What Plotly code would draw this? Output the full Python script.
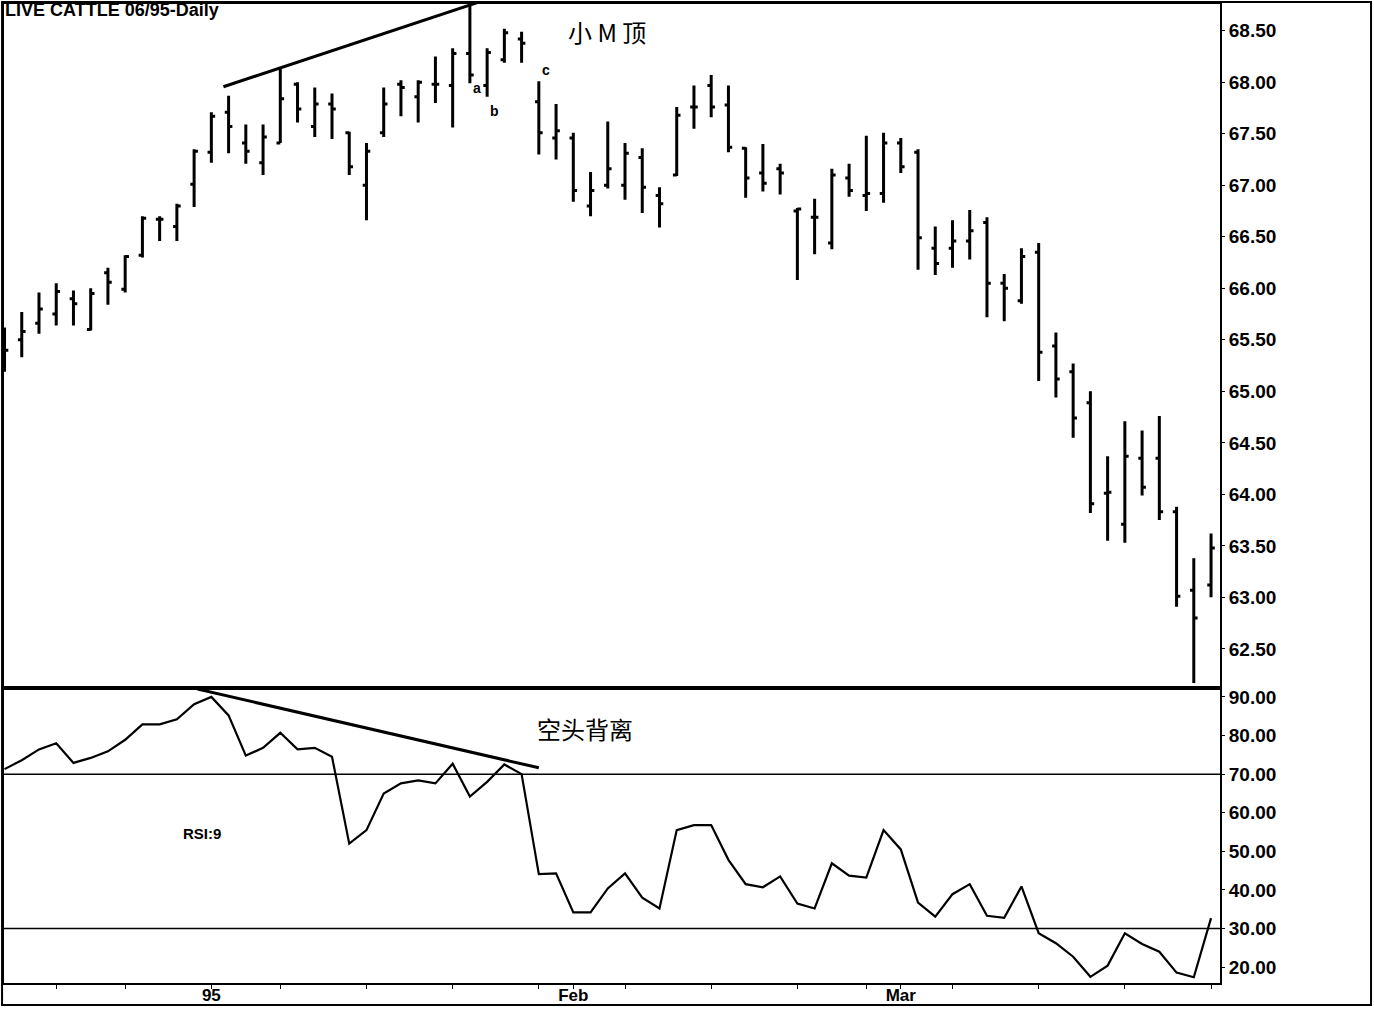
import plotly.graph_objects as go
from plotly.subplots import make_subplots

# Daily bars, 14 Dec 1994 .. 27 Mar 1995 (index 0..70)
OPEN = [65.45, 65.50, 65.66, 65.75, 65.90, 65.60, 66.15, 65.99, 66.32, 66.67,
        66.60, 67.01, 67.32, 67.71, 67.41, 67.22, 67.41, 67.98, 67.57, 67.79,
        67.51, 67.00, 67.51, 67.98, 67.86, 67.98, 67.97, 68.28, 67.97, 68.22,
        68.42, 67.81, 67.46, 67.46, 66.80, 67.00, 67.00, 67.27, 66.90, 67.10,
        67.76, 67.97, 67.78, 67.36, 67.12, 67.16, 66.75, 66.69, 66.44, 67.07,
        66.90, 66.92, 67.41, 67.32, 66.39, 66.39, 66.46, 66.64, 66.05, 65.88,
        66.35, 65.44, 65.19, 64.89, 64.01, 63.71, 64.35, 64.35, 63.83, 63.07,
        63.12]
HIGH = [65.62, 65.77, 65.96, 66.05, 65.98, 66.00, 66.20, 66.32, 66.70, 66.70,
        66.82, 67.35, 67.71, 67.87, 67.59, 67.59, 68.14, 68.00, 67.95, 67.89,
        67.52, 67.41, 67.95, 68.02, 68.02, 68.25, 68.33, 68.75, 68.33, 68.52,
        68.49, 68.01, 67.79, 67.51, 67.13, 67.62, 67.41, 67.36, 66.98, 67.76,
        67.97, 68.07, 67.97, 67.37, 67.40, 67.21, 66.78, 66.87, 67.16, 67.21,
        67.48, 67.51, 67.46, 67.35, 66.60, 66.66, 66.76, 66.69, 66.14, 66.39,
        66.44, 65.57, 65.27, 65.00, 64.37, 64.71, 64.62, 64.76, 63.88, 63.38,
        63.62]
LOW = [65.19, 65.33, 65.56, 65.64, 65.64, 65.59, 65.84, 65.96, 66.30, 66.46,
       66.46, 66.79, 67.22, 67.31, 67.21, 67.10, 67.41, 67.61, 67.47, 67.45,
       67.10, 66.66, 67.47, 67.67, 67.61, 67.80, 67.56, 67.99, 67.86, 68.19,
       68.19, 67.30, 67.25, 66.84, 66.70, 66.97, 66.86, 66.73, 66.59, 67.09,
       67.55, 67.66, 67.32, 66.88, 66.94, 66.91, 66.08, 66.33, 66.38, 66.89,
       66.75, 66.83, 67.12, 66.18, 66.13, 66.20, 66.28, 65.72, 65.68, 65.85,
       65.10, 64.94, 64.55, 63.82, 63.55, 63.53, 63.99, 63.75, 62.91, 62.17,
       63.00]
CLOSE = [65.40, 65.58, 65.80, 65.97, 65.85, 65.95, 66.06, 66.31, 66.68, 66.67,
         66.80, 67.33, 67.67, 67.57, 67.33, 67.47, 67.84, 67.74, 67.79, 67.74,
         67.18, 67.33, 67.79, 67.95, 68.00, 67.98, 68.28, 68.07, 68.29, 68.48,
         68.38, 67.51, 67.53, 66.95, 66.95, 67.16, 67.31, 66.98, 66.82, 67.68,
         67.76, 67.76, 67.37, 67.07, 67.02, 67.12, 66.77, 66.69, 67.10, 66.95,
         66.92, 67.41, 67.18, 66.49, 66.24, 66.46, 66.56, 66.05, 66.00, 66.31,
         65.38, 65.12, 64.74, 63.91, 64.02, 64.37, 64.07, 63.83, 63.01, 62.80,
         63.48]
RSI = [71.3, 73.6, 76.4, 78.0, 72.9, 74.2, 75.9, 78.9, 82.9, 82.9,
       84.2, 88.1, 90.0, 85.2, 74.8, 76.8, 80.7, 76.4, 76.8, 74.5,
       52.0, 55.5, 65.0, 67.6, 68.4, 67.6, 72.7, 64.2, 68.0, 72.5,
       70.0, 44.1, 44.3, 34.2, 34.2, 40.4, 44.3, 38.0, 35.2, 55.5,
       56.8, 56.8, 47.8, 41.5, 40.7, 43.5, 36.5, 35.2, 46.9, 43.7,
       43.2, 55.5, 50.5, 36.7, 33.1, 38.9, 41.5, 33.3, 32.8, 40.9,
       28.8, 26.2, 22.7, 17.5, 20.4, 28.8, 26.0, 24.0, 18.6, 17.4,
       32.7]

# weekly ticks and month labels on the bar index axis
TICK_POS = [3, 7, 12, 16, 21, 26, 31, 33, 36, 41, 46, 50, 52, 55, 60, 65, 70]
TICK_TXT = ['', '', '95', '', '', '', '', 'Feb', '', '', '', '', 'Mar', '', '', '', '']
PRICE_TICKS = [62.5, 63.0, 63.5, 64.0, 64.5, 65.0, 65.5, 66.0, 66.5, 67.0, 67.5, 68.0, 68.5]
RSI_TICKS = [20, 30, 40, 50, 60, 70, 80, 90]

x = list(range(len(CLOSE)))
bold = dict(family='Liberation Sans', size=19, color='black', weight='bold')

fig = make_subplots(rows=2, cols=1, shared_xaxes=True, vertical_spacing=0,
                    row_heights=[0.6987, 0.3013])

fig.add_trace(go.Ohlc(x=x, open=OPEN, high=HIGH, low=LOW, close=CLOSE,
                      increasing_line_color='black', decreasing_line_color='black',
                      line_width=3, tickwidth=0.22, showlegend=False), row=1, col=1)
fig.add_trace(go.Scatter(x=x, y=RSI, mode='lines', line=dict(color='black', width=2.2),
                         showlegend=False), row=2, col=1)

# overbought / oversold lines
fig.add_hline(y=70, line_color='black', line_width=1.5, row=2, col=1)
fig.add_hline(y=30, line_color='black', line_width=1.5, row=2, col=1)

# rising trend line over the highs (bars 16 and 27)
k = (HIGH[27] - HIGH[16]) / 11
fig.add_shape(type='line', xref='x', yref='y', x0=12.7, x1=27.6,
              y0=HIGH[16] + (12.7 - 16) * k, y1=HIGH[16] + (27.6 - 16) * k,
              line=dict(color='black', width=3))
# falling RSI line over the peaks (bars 12 and 29)
m = (RSI[29] - RSI[12]) / 17
fig.add_shape(type='line', xref='x2', yref='y2', x0=11.2, x1=31.0,
              y0=RSI[12] + 1.2 + (11.2 - 12) * m, y1=RSI[12] + 1.2 + (31.0 - 12) * m,
              line=dict(color='black', width=3))

# outer frame
fig.add_shape(type='rect', xref='paper', yref='paper', x0=-0.0016, x1=1.1242,
              y0=-0.0225, y1=1.002, line=dict(color='black', width=2))

small = dict(family='Liberation Sans', size=14, color='black', weight='bold')
cjk = dict(family='Noto Sans CJK SC', size=24, color='black')
fig.add_annotation(x=27.41, y=67.94, xref='x', yref='y', text='a', showarrow=False, font=small)
fig.add_annotation(x=28.40, y=67.72, xref='x', yref='y', text='b', showarrow=False, font=small)
fig.add_annotation(x=31.42, y=68.12, xref='x', yref='y', text='c', showarrow=False, font=small)
fig.add_annotation(x=34.96, y=68.49, xref='x', yref='y', text='小 M 顶', showarrow=False, font=cjk)
fig.add_annotation(x=33.68, y=81.7, xref='x2', yref='y2', text='空头背离', showarrow=False, font=cjk)
fig.add_annotation(x=11.46, y=54.5, xref='x2', yref='y2', text='RSI:9', showarrow=False,
                   font=dict(family='Liberation Sans', size=15, color='black', weight='bold'))
fig.add_annotation(x=-0.001, y=0.9939, xref='paper', yref='paper', xanchor='left', yanchor='middle',
                   text='LIVE CATTLE 06/95-Daily', showarrow=False,
                   font=dict(family='Liberation Sans', size=18, color='black', weight='bold'))

fig.update_xaxes(range=[-0.03, 70.52], showline=True, mirror=True, linecolor='black',
                 linewidth=2, showgrid=False, zeroline=False, rangeslider_visible=False,
                 automargin=False)
fig.update_xaxes(showticklabels=False, ticks='', row=1, col=1)
fig.update_xaxes(tickvals=TICK_POS, ticktext=TICK_TXT, ticks='outside', ticklen=4,
                 tickcolor='black', tickfont=dict(bold, size=17), ticklabelstandoff=-8,
                 row=2, col=1)
fig.update_yaxes(side='right', showline=True, mirror=True, linecolor='black', linewidth=2,
                 showgrid=False, zeroline=False, ticks='outside', ticklen=3, tickcolor='black',
                 tickformat='.2f', tickfont=bold, automargin=False)
fig.update_yaxes(range=[62.12, 68.76], tickvals=PRICE_TICKS, row=1, col=1)
fig.update_yaxes(range=[15.9, 92.3], tickvals=RSI_TICKS, row=2, col=1)

fig.update_layout(width=1374, height=1009, margin=dict(l=4, r=154, t=4, b=26),
                  plot_bgcolor='white', paper_bgcolor='white', showlegend=False,
                  hovermode=False)

# no page margin or scroll height, so the chart fills the window exactly
page_fix = (
    "document.documentElement.style.overflow='hidden';"
    "document.body.style.margin='0';"
    "document.body.style.overflow='hidden';"
    "document.body.style.height='1009px';"
)
fig.write_html("out.html", post_script=page_fix, config={'displayModeBar': False})
